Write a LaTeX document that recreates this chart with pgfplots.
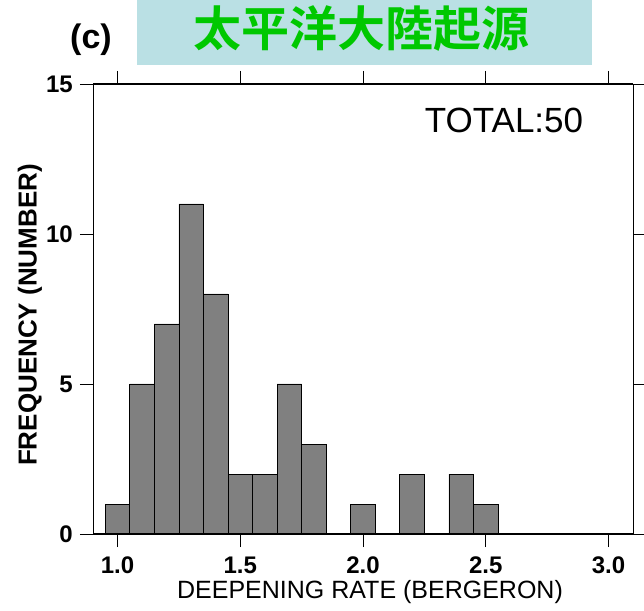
\documentclass[border=0pt]{standalone}
\usepackage{pgfplots}
\pgfplotsset{compat=1.18}
\usepackage{fontspec}
\setmainfont{Liberation Sans}
\newfontfamily\cjk{Noto Sans CJK TC}[UprightFont=* Bold]
\definecolor{titlebg}{RGB}{186,224,228}
\definecolor{titlegreen}{RGB}{0,200,0}
\definecolor{bargray}{RGB}{128,128,128}
\begin{document}
\begin{tikzpicture}
\useasboundingbox (-93pt,-76pt) rectangle (551pt,534pt);
\fill[titlebg] (44pt,469pt) rectangle (499pt,534pt);
\node[text=titlegreen, inner sep=0pt, anchor=center] at (268.5pt,505pt) {\cjk\fontsize{48}{48}\selectfont 太平洋大陸起源};
\node[inner sep=0pt, anchor=center] at (-2pt,494pt) {\bfseries\fontsize{34}{34}\selectfont (c)};
\begin{axis}[
  at={(0pt,0pt)}, anchor=south west,
  scale only axis, width=540pt, height=450pt,
  xmin=0.9, xmax=3.1, ymin=0, ymax=15,
  xtick={1.0,1.5,2.0,2.5,3.0}, ytick={0,5,10,15},
  minor tick num=0,
  tick align=outside, major tick length=13pt,
  tick style={black, line width=0.8pt},
  axis line style={line width=0.8pt},
  /pgf/number format/assume math mode=true,
  xticklabel style={font=\bfseries\fontsize{24}{24}\selectfont, inner sep=0pt, yshift=-10pt,
    /pgf/number format/.cd, fixed, fixed zerofill, precision=1},
  yticklabel style={font=\bfseries\fontsize{24}{24}\selectfont, inner sep=0pt, xshift=-7pt},
  clip=false,
  ybar, bar width=0.1,
]
\addplot[fill=bargray, draw=black, line width=0.8pt] coordinates {
  (1.0,1) (1.1,5) (1.2,7) (1.3,11) (1.4,8) (1.5,2) (1.6,2) (1.7,5) (1.8,3)
  (2.0,1) (2.2,2) (2.4,2) (2.5,1)
};
\draw[line width=2pt] (rel axis cs:0,1) -- (rel axis cs:1,1);
\draw[line width=2pt] (rel axis cs:0,0) -- (rel axis cs:1,0);
\end{axis}
\node[inner sep=0pt, anchor=center] at (411pt,414pt) {\fontsize{35}{35}\selectfont TOTAL:50};
\node[inner sep=0pt, anchor=center] at (277pt,-58pt) {\fontsize{25}{25}\selectfont DEEPENING RATE (BERGERON)};
\node[inner sep=0pt, anchor=center, rotate=90] at (-63pt,219pt) {\bfseries\fontsize{26}{26}\selectfont FREQUENCY (NUMBER)};
\end{tikzpicture}
\end{document}
